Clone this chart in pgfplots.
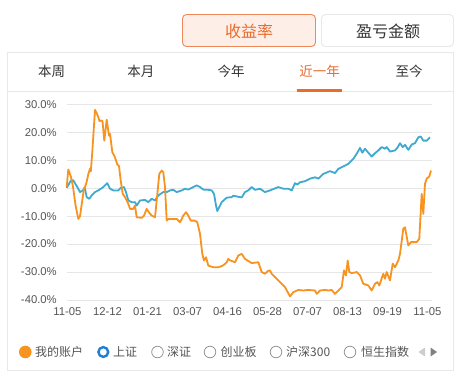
\documentclass[border=0pt]{standalone}
\usepackage{pgfplots}
\pgfplotsset{compat=1.18}
\usepackage{fontspec}
\setmainfont{Liberation Sans}
\newfontfamily\cjk{Noto Sans CJK SC}
\definecolor{orangeL}{HTML}{F7931E}
\definecolor{blueL}{HTML}{3FAACF}
\definecolor{accent}{HTML}{EB6A2C}
\definecolor{btnfill}{HTML}{FDEFE7}
\definecolor{gridc}{HTML}{E6E6E6}
\definecolor{panelc}{HTML}{E8E8E8}
\definecolor{txt}{HTML}{555555}
\definecolor{radioblue}{HTML}{1F7FD6}
\begin{document}
\begin{tikzpicture}[x=1pt,y=1pt]
\useasboundingbox[fill=white] (0,0) rectangle (458,-378);
% buttons
\draw[accent!80, fill=btnfill, rounded corners=4pt, line width=0.9pt] (182.5,-14.5) rectangle (315.5,-46.5);
\node[text=accent, font={\cjk\fontsize{16}{16}\selectfont}] at (249,-31) {收益率};
\draw[panelc, fill=white, rounded corners=4pt, line width=0.9pt] (321.5,-14.5) rectangle (453.5,-46.5);
\node[text=black!80, font={\cjk\fontsize{16}{16}\selectfont}] at (388,-31) {盈亏金额};
% panel
\draw[panelc, line width=0.9pt] (7.5,-52.5) rectangle (453.5,-370.5);
\draw[panelc, line width=0.9pt] (7.5,-91) -- (453.5,-91);
\foreach \xx/\tt in {51.7/本周,140.8/本月,231/今年,409/至今}{
  \node[text=black!80, font={\cjk\fontsize{13.5}{13.5}\selectfont}] at (\xx,-71.5) {\tt};
}
\node[text=accent, font={\cjk\fontsize{13.5}{13.5}\selectfont}] at (319.5,-71.5) {近一年};
\fill[accent] (297,-89) rectangle (342,-92);
% axis
\begin{axis}[at={(67pt,-300pt)}, anchor=south west, scale only axis,
  width=365pt, height=195.7pt,
  xmin=67, xmax=432, ymin=-40, ymax=30,
  axis line style={draw=none}, major tick length=0pt,
  ytick={-40,-30,...,30}, ymajorgrids, grid style={gridc, line width=0.8pt},
  xtick={67.5,107.5,147.5,187.5,227.5,267.5,307.5,347.5,387.5,427.5},
  xticklabels={11-05,12-12,01-21,03-07,04-16,05-28,07-07,08-13,09-19,11-05},
  /pgf/number format/assume math mode=true,
  yticklabel={\pgfmathprintnumber[fixed,fixed zerofill,precision=1]{\tick}\%},
  ticklabel style={font={\fontsize{11.3}{11.3}\selectfont}, text=txt, inner sep=0pt},
  yticklabel shift=10pt, xticklabel shift=7pt,
  clip=false]
\addplot[blueL, line width=1.8pt, line join=round] coordinates {
(66.7,0.1) (71,2.8) (73.3,2.8) (77.3,0.4) (80,-1.4) (82.7,-0.8) (85,-0.2) (86.7,-3.2) (89.3,-3.8) (91.7,-2.6) (95,-1.4) (98.3,-0.8) (103.3,0.4) (107.3,1.8) (110,-0.2) (113.3,-0.8) (118.3,-0.8) (120.7,0.1) (124,0.4) (126,-1.4) (128.3,-4.4) (131.7,-5) (135,-5) (136.7,-6.2) (140,-4.4) (145,-4.2) (148.3,-5) (151.7,-3.8) (155,-4.4) (158.3,-2.6) (163.3,-1.4) (166.7,-1.4) (170,-0.8) (173.3,-0.6) (176.7,-1.4) (181.7,-0.8) (185,-0.2) (188.3,-0.5) (191.7,0.1) (196.7,1) (200,0.4) (203.3,-0.5) (208.3,-0.6) (211.7,-0.8) (214,-2) (216,-6.2) (217.3,-8.2) (220,-6.2) (221.7,-5) (226.7,-3.4) (231.7,-3.2) (233.3,-2.7) (240,-3.2) (241.7,-3.3) (245,-1.4) (248.3,-0.8) (251.7,0.4) (255,-0.6) (260,-0.2) (265,-1.4) (270,-0.8) (278.3,0.4) (283.3,-0.2) (288.3,-0.2) (291.7,-0.8) (295,1.8) (297.3,1.3) (300,2.1) (305,2.5) (310,3.4) (315,3.9) (318.3,3.4) (323.3,5.1) (330,6.1) (335,5.4) (338.3,6.9) (343.3,7.8) (348.3,8.7) (353.3,10.5) (356.7,12.3) (360,14.4) (362.3,12.7) (365,14.1) (368.3,12.7) (371.7,11.3) (375,12.5) (378.3,13.5) (381.7,14.7) (385,14.1) (386.7,14.7) (390,13.1) (395,13.5) (397.3,14.4) (400,16.1) (402.7,14.7) (405,15.5) (408.3,13.7) (411.7,15.6) (415,16.1) (418.3,18.2) (420.7,18.5) (423.3,17) (426.7,17) (430,18.2)
};
\addplot[orangeL, line width=1.8pt, line join=round] coordinates {
(66.7,0.4) (68.3,6.7) (71,4) (73,0.5) (75.5,-6) (78.3,-11) (80,-10) (82,-5) (84,0) (85,0.4) (86.5,2) (88.3,5) (90,7) (90.8,6) (92.3,13) (95,28) (96.5,27) (98.3,25.4) (99.5,24) (101,24.2) (102.5,24) (104.3,17) (106.7,24.5) (109,18.8) (110,19.5) (112.3,12.9) (115,11) (117.3,8.5) (119,7.9) (120.7,2.8) (122.7,-2) (125,-3.2) (128.3,-5.6) (130,-7.4) (133.3,-7.4) (135,-6.2) (136.7,-10.4) (141.7,-10.6) (144,-9.8) (146.7,-7.4) (149.3,-8.8) (151.7,-9.8) (155,-10.4) (156.7,-4.4) (159.3,5.1) (161.7,6.3) (163.3,5.7) (165,0.4) (166.7,-11.6) (168.3,-11) (171.7,-11) (176.7,-11) (180,-12.2) (181.7,-11) (183.3,-9.8) (186,-8.6) (188.3,-9.8) (190.7,-11.6) (195,-11.6) (197.3,-12.2) (200,-16.3) (202.3,-23.5) (204,-25.9) (206,-24.7) (208.3,-27.7) (213.3,-28.3) (218.3,-28.3) (222.7,-27.7) (225,-27.1) (226.7,-26.5) (228.3,-25.3) (230,-25.8) (235,-26.5) (238.3,-24.1) (241.7,-23.5) (245,-25.3) (251.7,-26.8) (258.3,-26.5) (261.7,-30) (265,-30.6) (268,-29.6) (270,-29.4) (271.7,-30.6) (278.3,-33) (285,-35.4) (290,-38.7) (293.3,-37.2) (298.3,-36.4) (303.3,-36.6) (308.3,-36.4) (315,-36.6) (316.7,-37.8) (320,-36.6) (325,-36.4) (328.3,-36.6) (331.7,-36.4) (335,-37.8) (338.3,-36.6) (341.7,-35.4) (344,-29.4) (346,-31.2) (347.7,-25.9) (349.3,-30) (351.7,-30.4) (356.7,-30) (360,-31.2) (363.3,-34.2) (368.3,-34.8) (371.7,-36.6) (375,-34.2) (377.3,-33.6) (379.3,-34.8) (383.3,-30.6) (385,-32.4) (386.7,-30) (390,-33) (392.7,-27) (395,-28.3) (398.3,-25.9) (400,-23.5) (403.3,-14.5) (405,-14) (408.3,-20.5) (411,-19.3) (416.7,-19.3) (419.3,-18.1) (421.7,-2) (423.3,-9.2) (425,1.6) (426.7,3.4) (429.3,4.2) (431,6.3)
};
\end{axis}
% legend
\fill[orangeL] (25.3,-352) circle (6.3);
\draw[radioblue, line width=2.4pt] (103.3,-352) circle (4.9);
\foreach \cx in {157.5,210,276,350}{
  \draw[black!45, line width=0.7pt] (\cx,-352) circle (5.8);
}
\begin{scope}[every node/.style={anchor=west, text=txt, inner sep=0pt, font={\cjk\fontsize{12}{12}\selectfont}}]
\node at (35,-352) {我的账户};
\node at (113,-352) {上证};
\node at (167,-352) {深证};
\node at (220.5,-352) {创业板};
\node at (286,-352) {沪深300};
\node at (361,-352) {恒生指数};
\end{scope}
\fill[black!20] (425,-347.5) -- (425,-356.5) -- (418.5,-352) -- cycle;
\fill[black!50] (430.5,-347.5) -- (430.5,-356.5) -- (437,-352) -- cycle;
\end{tikzpicture}
\end{document}
